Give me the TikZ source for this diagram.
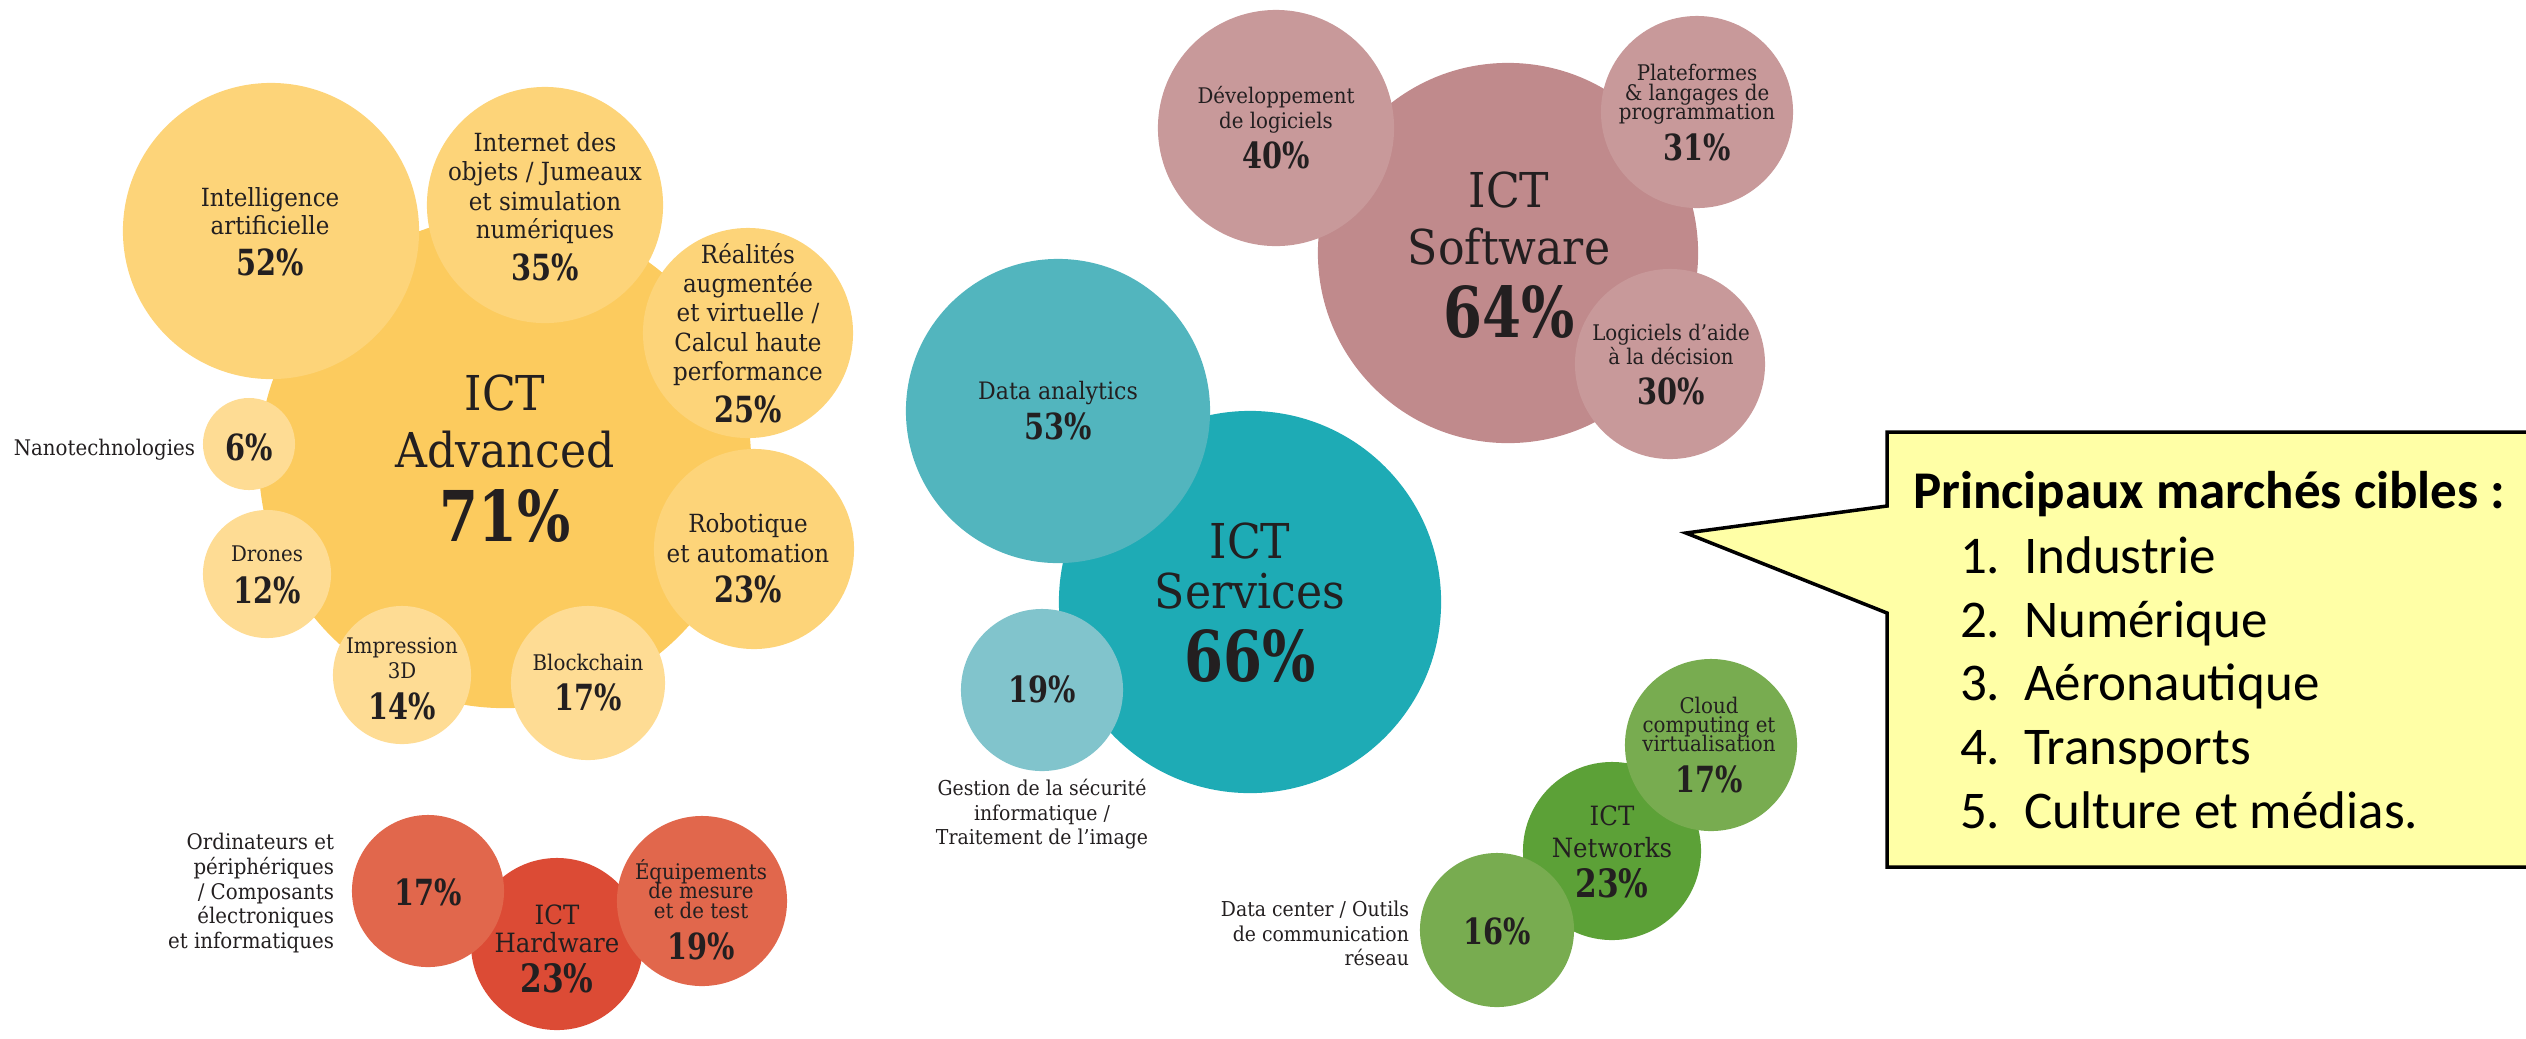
\documentclass[tikz,border=0pt]{standalone}
\usepackage{fontspec}
\newfontfamily\slab[FakeStretch=0.92]{DejaVu Serif}
\newfontfamily\pctf[FakeStretch=0.8]{DejaVu Serif}
\newfontfamily\calib{Carlito}
\definecolor{ink}{HTML}{231F20}
\definecolor{advBig}{HTML}{FCCB5E}
\definecolor{advSat}{HTML}{FDD479}
\definecolor{advSm}{HTML}{FEDC94}
\definecolor{swBig}{HTML}{C08A8C}
\definecolor{swSat}{HTML}{C8999A}
\definecolor{srvBig}{HTML}{1EABB5}
\definecolor{srvDA}{HTML}{52B5BE}
\definecolor{srvSm}{HTML}{81C4CC}
\definecolor{netBig}{HTML}{5CA137}
\definecolor{netSat}{HTML}{78AC50}
\definecolor{hwBig}{HTML}{DC4B35}
\definecolor{hwSat}{HTML}{E1674C}
\definecolor{callfill}{HTML}{FFFFA6}
\newcommand\tx[5]{\node[#1] (#2) at (#3,#4) {#5};}
\tikzset{
  bub/.style={circle, inner sep=0pt, outer sep=0pt, draw=none},
  tb/.style={anchor=base, inner sep=0pt, outer sep=0pt, text=ink},
  lA/.style={tb, font=\slab\fontsize{7.11pt}{8pt}\selectfont},
  lB/.style={tb, font=\slab\fontsize{6.12pt}{7pt}\selectfont},
  lD/.style={tb, font=\slab\fontsize{6.83pt}{8pt}\selectfont},
  lG/.style={tb, font=\slab\fontsize{5.83pt}{7pt}\selectfont},
  lN/.style={tb, font=\slab\fontsize{7.55pt}{9pt}\selectfont},
  big/.style={tb, font=\slab\fontsize{13.66pt}{16pt}\selectfont},
  pc/.style={tb, font=\pctf\bfseries\fontsize{10.24pt}{12pt}\selectfont},
  pcM/.style={tb, font=\pctf\bfseries\fontsize{11.1pt}{13pt}\selectfont},
  pcL/.style={tb, font=\pctf\bfseries\fontsize{19.92pt}{23pt}\selectfont},
  ct/.style={anchor=base west, inner sep=0pt, outer sep=0pt, text=black, font=\calib\fontsize{15.08pt}{18pt}\selectfont},
}
\begin{document}
\begin{tikzpicture}[x=0.01cm,y=-0.01cm]
\useasboundingbox (0,0) rectangle (2526,1038);
% ---------------- ICT Advanced
\node[bub, fill=advBig, minimum size=4.92cm] (adv) at (505,462) {};
\node[bub, fill=advSat, minimum size=2.96cm] (ia) at (271,231) {};
\node[bub, fill=advSat, minimum size=2.36cm] (iot) at (545,205) {};
\node[bub, fill=advSat, minimum size=2.10cm] (real) at (748,333) {};
\node[bub, fill=advSat, minimum size=2.00cm] (robo) at (754,549) {};
\node[bub, fill=advSm, minimum size=0.92cm] (nano) at (249,444) {};
\node[bub, fill=advSm, minimum size=1.28cm] (drones) at (267,574) {};
\node[bub, fill=advSm, minimum size=1.38cm] (imp) at (402,675) {};
\node[bub, fill=advSm, minimum size=1.54cm] (block) at (588,683) {};
\tx{big}{adv-1}{505}{410}{ICT}
\tx{big}{adv-2}{505}{467}{Advanced}
\tx{pcL}{adv-p}{505}{541}{71\%}
\tx{lA}{ia-1}{270}{206}{Intelligence}
\tx{lA}{ia-2}{270}{234}{artificielle}
\tx{pc}{ia-p}{270}{275}{52\%}
\tx{lA}{iot-1}{545}{151}{Internet des}
\tx{lA}{iot-2}{545}{180}{objets / Jumeaux}
\tx{lA}{iot-3}{545}{210}{et simulation}
\tx{lA}{iot-4}{545}{238}{numériques}
\tx{pc}{iot-p}{545}{280}{35\%}
\tx{lA}{real-1}{748}{263}{Réalités}
\tx{lA}{real-2}{748}{292}{augmentée}
\tx{lA}{real-3}{748}{321}{et virtuelle /}
\tx{lA}{real-4}{748}{351}{Calcul haute}
\tx{lA}{real-5}{748}{380}{performance}
\tx{pc}{real-p}{748}{422}{25\%}
\tx{lA}{robo-1}{748}{532}{Robotique}
\tx{lA}{robo-2}{748}{562}{et automation}
\tx{pc}{robo-p}{748}{602}{23\%}
\tx{pc}{nano-p}{249}{460}{6\%}
\tx{lB,anchor=base east}{nano-l}{195}{455}{Nanotechnologies}
\tx{lB}{drones-1}{267}{561}{Drones}
\tx{pc}{drones-p}{267}{603}{12\%}
\tx{lB}{imp-1}{402}{653}{Impression}
\tx{lB}{imp-2}{402}{678}{3D}
\tx{pc}{imp-p}{402}{719}{14\%}
\tx{lB}{block-1}{588}{670}{Blockchain}
\tx{pc}{block-p}{588}{710}{17\%}
% ---------------- ICT Software
\node[bub, fill=swBig, minimum size=3.80cm] (sw) at (1508,253) {};
\node[bub, fill=swSat, minimum size=2.36cm] (dev) at (1276,128) {};
\node[bub, fill=swSat, minimum size=1.92cm] (plat) at (1697,112) {};
\node[bub, fill=swSat, minimum size=1.90cm] (logi) at (1670,364) {};
\tx{big}{sw-1}{1509}{207}{ICT}
\tx{big}{sw-2}{1509}{264}{Software}
\tx{pcL}{sw-p}{1509}{337}{64\%}
\tx{lB}{dev-1}{1276}{103}{Développement}
\tx{lB}{dev-2}{1276}{128}{de logiciels}
\tx{pc}{dev-p}{1276}{168}{40\%}
\tx{lB}{plat-1}{1697}{80}{Plateformes}
\tx{lB}{plat-2}{1697}{100}{\& langages de}
\tx{lB}{plat-3}{1697}{119}{programmation}
\tx{pc}{plat-p}{1697}{160}{31\%}
\tx{lB}{logi-1}{1671}{340}{Logiciels d’aide}
\tx{lB}{logi-2}{1671}{364}{à la décision}
\tx{pc}{logi-p}{1671}{404}{30\%}
% ---------------- ICT Services
\node[bub, fill=srvBig, minimum size=3.82cm] (srv) at (1250,602) {};
\node[bub, fill=srvDA, minimum size=3.04cm] (da) at (1058,411) {};
\node[bub, fill=srvSm, minimum size=1.62cm] (sec) at (1042,690) {};
\tx{big}{srv-1}{1250}{558}{ICT}
\tx{big}{srv-2}{1250}{608}{Services}
\tx{pcL}{srv-p}{1250}{681}{66\%}
\tx{lD}{da-1}{1058}{399}{Data analytics}
\tx{pc}{da-p}{1058}{439}{53\%}
\tx{pc}{sec-p}{1042}{702}{19\%}
\tx{lG}{sec-1}{1042}{795}{Gestion de la sécurité}
\tx{lG}{sec-2}{1042}{820}{informatique /}
\tx{lG}{sec-3}{1042}{844}{Traitement de l’image}
% ---------------- ICT Networks
\node[bub, fill=netBig, minimum size=1.78cm] (net) at (1612,851) {};
\node[bub, fill=netSat, minimum size=1.72cm] (cloud) at (1711,745) {};
\node[bub, fill=netSat, minimum size=1.54cm] (dc) at (1497,930) {};
\tx{lN}{net-1}{1612}{825}{ICT}
\tx{lN}{net-2}{1612}{857}{Networks}
\tx{pcM}{net-p}{1612}{897}{23\%}
\tx{lB}{cloud-1}{1709}{713}{Cloud}
\tx{lB}{cloud-2}{1709}{732}{computing et}
\tx{lB}{cloud-3}{1709}{751}{virtualisation}
\tx{pc}{cloud-p}{1709}{792}{17\%}
\tx{pc}{dc-p}{1497}{944}{16\%}
\tx{lG,anchor=base east}{dc-1}{1409}{916}{Data center / Outils}
\tx{lG,anchor=base east}{dc-2}{1409}{941}{de communication}
\tx{lG,anchor=base east}{dc-3}{1409}{965}{réseau}
% ---------------- ICT Hardware
\node[bub, fill=hwBig, minimum size=1.72cm] (hw) at (557,944) {};
\node[bub, fill=hwSat, minimum size=1.52cm] (comp) at (428,891) {};
\node[bub, fill=hwSat, minimum size=1.70cm] (equip) at (702,901) {};
\tx{lN}{hw-1}{557}{924}{ICT}
\tx{lN}{hw-2}{557}{952}{Hardware}
\tx{pcM}{hw-p}{557}{992}{23\%}
\tx{pc}{comp-p}{428}{905}{17\%}
\tx{lB,anchor=base east}{comp-1}{334}{849}{Ordinateurs et}
\tx{lB,anchor=base east}{comp-2}{334}{874}{périphériques}
\tx{lB,anchor=base east}{comp-3}{334}{899}{/ Composants}
\tx{lB,anchor=base east}{comp-4}{334}{923}{électroniques}
\tx{lB,anchor=base east}{comp-5}{334}{948}{et informatiques}
\tx{lB}{equip-1}{701}{879}{Équipements}
\tx{lB}{equip-2}{701}{898}{de mesure}
\tx{lB}{equip-3}{701}{918}{et de test}
\tx{pc}{equip-p}{701}{959}{19\%}
% ---------------- Callout
\coordinate (tip) at (1686,533);
\draw[fill=callfill, line width=1pt, line join=miter]
  (1887,432) -- (2545,432) -- (2545,867) -- (1887,867) -- (1887,613) -- (tip) -- (1887,506) -- cycle;
\node[ct, font=\calib\bfseries\fontsize{15.08pt}{18pt}\selectfont] (c-t) at (1913,508) {Principaux marchés cibles :};
\node[ct] (c-1) at (1960,573) {\makebox[18.21pt][l]{1.}Industrie};
\node[ct] (c-2) at (1960,637) {\makebox[18.21pt][l]{2.}Numérique};
\node[ct] (c-3) at (1960,700) {\makebox[18.21pt][l]{3.}Aéronautique};
\node[ct] (c-4) at (1960,764) {\makebox[18.21pt][l]{4.}Transports};
\node[ct] (c-5) at (1960,828) {\makebox[18.21pt][l]{5.}Culture et médias.};
\end{tikzpicture}
\end{document}
